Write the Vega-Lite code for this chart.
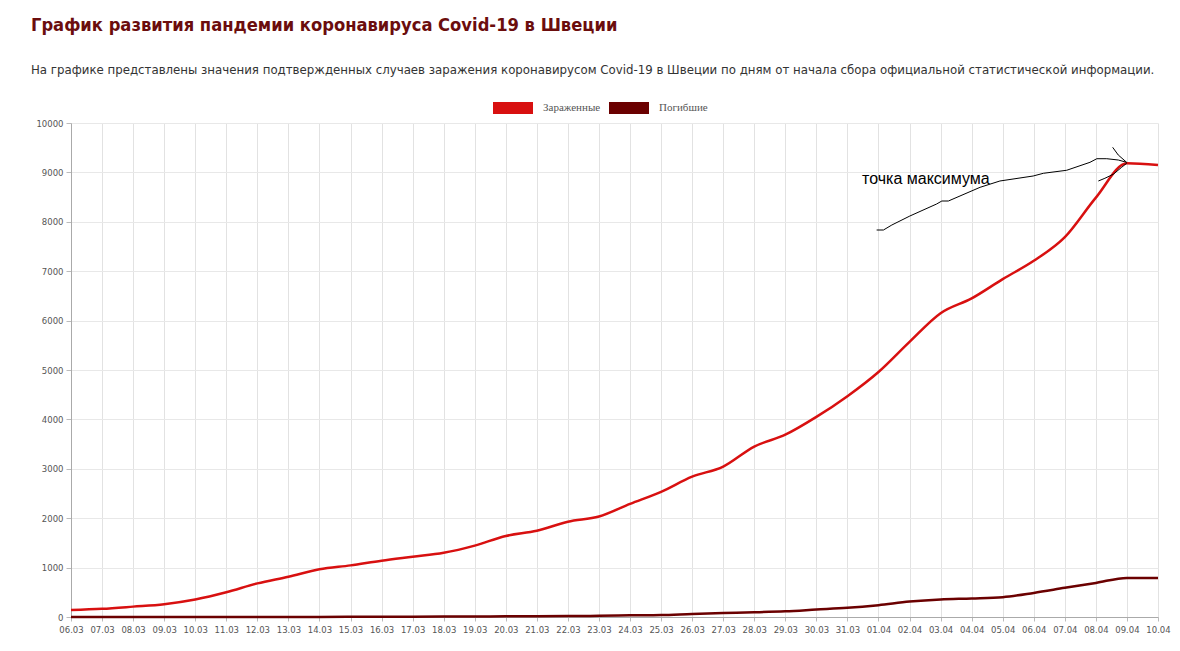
{
  "$schema": "https://vega.github.io/schema/vega-lite/v6.json",
  "width": 1087,
  "height": 494,
  "autosize": {"type": "none"},
  "padding": {"left": 71, "top": 123, "right": 22, "bottom": 34},
  "background": "white",
  "title": {
    "text": "График развития пандемии коронавируса Covid-19 в Швеции",
    "subtitle": "На графике представлены значения подтвержденных случаев заражения коронавирусом Covid-19 в Швеции по дням от начала сбора официальной статистической информации.",
    "anchor": "start",
    "frame": "bounds",
    "dx": -5,
    "offset": 10,
    "font": "Liberation Sans Narrow, DejaVu Sans Condensed, sans-serif",
    "fontSize": 18.2,
    "fontWeight": "bold",
    "color": "#6b0d0d",
    "subtitleFont": "Liberation Sans Narrow, DejaVu Sans Condensed, sans-serif",
    "subtitleFontSize": 13.1,
    "subtitleColor": "#333333",
    "subtitlePadding": 29
  },
  "datasets": {
    "covid": [
      {"date": "2020-03-06T00:00", "series": "Зараженные", "value": 140},
      {"date": "2020-03-07T00:00", "series": "Зараженные", "value": 165},
      {"date": "2020-03-08T00:00", "series": "Зараженные", "value": 210},
      {"date": "2020-03-09T00:00", "series": "Зараженные", "value": 260},
      {"date": "2020-03-10T00:00", "series": "Зараженные", "value": 355},
      {"date": "2020-03-11T00:00", "series": "Зараженные", "value": 500},
      {"date": "2020-03-12T00:00", "series": "Зараженные", "value": 680},
      {"date": "2020-03-13T00:00", "series": "Зараженные", "value": 815},
      {"date": "2020-03-14T00:00", "series": "Зараженные", "value": 965},
      {"date": "2020-03-15T00:00", "series": "Зараженные", "value": 1045},
      {"date": "2020-03-16T00:00", "series": "Зараженные", "value": 1140},
      {"date": "2020-03-17T00:00", "series": "Зараженные", "value": 1220},
      {"date": "2020-03-18T00:00", "series": "Зараженные", "value": 1300},
      {"date": "2020-03-19T00:00", "series": "Зараженные", "value": 1445},
      {"date": "2020-03-20T00:00", "series": "Зараженные", "value": 1640},
      {"date": "2020-03-21T00:00", "series": "Зараженные", "value": 1745},
      {"date": "2020-03-22T00:00", "series": "Зараженные", "value": 1930},
      {"date": "2020-03-23T00:00", "series": "Зараженные", "value": 2035},
      {"date": "2020-03-24T00:00", "series": "Зараженные", "value": 2290},
      {"date": "2020-03-25T00:00", "series": "Зараженные", "value": 2535},
      {"date": "2020-03-26T00:00", "series": "Зараженные", "value": 2840},
      {"date": "2020-03-27T00:00", "series": "Зараженные", "value": 3045},
      {"date": "2020-03-28T00:00", "series": "Зараженные", "value": 3450},
      {"date": "2020-03-29T00:00", "series": "Зараженные", "value": 3690},
      {"date": "2020-03-30T00:00", "series": "Зараженные", "value": 4050},
      {"date": "2020-03-31T00:00", "series": "Зараженные", "value": 4470},
      {"date": "2020-04-01T00:00", "series": "Зараженные", "value": 4960},
      {"date": "2020-04-02T00:00", "series": "Зараженные", "value": 5570},
      {"date": "2020-04-03T00:00", "series": "Зараженные", "value": 6150},
      {"date": "2020-04-04T00:00", "series": "Зараженные", "value": 6450},
      {"date": "2020-04-05T00:00", "series": "Зараженные", "value": 6840},
      {"date": "2020-04-06T00:00", "series": "Зараженные", "value": 7210},
      {"date": "2020-04-07T00:00", "series": "Зараженные", "value": 7690},
      {"date": "2020-04-08T00:00", "series": "Зараженные", "value": 8490},
      {"date": "2020-04-09T00:00", "series": "Зараженные", "value": 9185},
      {"date": "2020-04-10T00:00", "series": "Зараженные", "value": 9150},
      {"date": "2020-03-06T00:00", "series": "Погибшие", "value": 0},
      {"date": "2020-03-07T00:00", "series": "Погибшие", "value": 0},
      {"date": "2020-03-08T00:00", "series": "Погибшие", "value": 0},
      {"date": "2020-03-09T00:00", "series": "Погибшие", "value": 0},
      {"date": "2020-03-10T00:00", "series": "Погибшие", "value": 0},
      {"date": "2020-03-11T00:00", "series": "Погибшие", "value": 1},
      {"date": "2020-03-12T00:00", "series": "Погибшие", "value": 1},
      {"date": "2020-03-13T00:00", "series": "Погибшие", "value": 1},
      {"date": "2020-03-14T00:00", "series": "Погибшие", "value": 2},
      {"date": "2020-03-15T00:00", "series": "Погибшие", "value": 3},
      {"date": "2020-03-16T00:00", "series": "Погибшие", "value": 6},
      {"date": "2020-03-17T00:00", "series": "Погибшие", "value": 7},
      {"date": "2020-03-18T00:00", "series": "Погибшие", "value": 8},
      {"date": "2020-03-19T00:00", "series": "Погибшие", "value": 10},
      {"date": "2020-03-20T00:00", "series": "Погибшие", "value": 14},
      {"date": "2020-03-21T00:00", "series": "Погибшие", "value": 16},
      {"date": "2020-03-22T00:00", "series": "Погибшие", "value": 20},
      {"date": "2020-03-23T00:00", "series": "Погибшие", "value": 23},
      {"date": "2020-03-24T00:00", "series": "Погибшие", "value": 33},
      {"date": "2020-03-25T00:00", "series": "Погибшие", "value": 40},
      {"date": "2020-03-26T00:00", "series": "Погибшие", "value": 62},
      {"date": "2020-03-27T00:00", "series": "Погибшие", "value": 80},
      {"date": "2020-03-28T00:00", "series": "Погибшие", "value": 95},
      {"date": "2020-03-29T00:00", "series": "Погибшие", "value": 115},
      {"date": "2020-03-30T00:00", "series": "Погибшие", "value": 150},
      {"date": "2020-03-31T00:00", "series": "Погибшие", "value": 185},
      {"date": "2020-04-01T00:00", "series": "Погибшие", "value": 240},
      {"date": "2020-04-02T00:00", "series": "Погибшие", "value": 312},
      {"date": "2020-04-03T00:00", "series": "Погибшие", "value": 356},
      {"date": "2020-04-04T00:00", "series": "Погибшие", "value": 375},
      {"date": "2020-04-05T00:00", "series": "Погибшие", "value": 402},
      {"date": "2020-04-06T00:00", "series": "Погибшие", "value": 488},
      {"date": "2020-04-07T00:00", "series": "Погибшие", "value": 590},
      {"date": "2020-04-08T00:00", "series": "Погибшие", "value": 690},
      {"date": "2020-04-09T00:00", "series": "Погибшие", "value": 792},
      {"date": "2020-04-10T00:00", "series": "Погибшие", "value": 790}
    ],
    "arrow": [
      {"stroke": 1, "date": "2020-03-31T22:34", "value": 7834},
      {"stroke": 1, "date": "2020-04-01T03:50", "value": 7834},
      {"stroke": 1, "date": "2020-04-01T10:19", "value": 7935},
      {"stroke": 1, "date": "2020-04-02T00:14", "value": 8117},
      {"stroke": 1, "date": "2020-04-02T20:53", "value": 8360},
      {"stroke": 1, "date": "2020-04-03T00:58", "value": 8421},
      {"stroke": 1, "date": "2020-04-03T06:00", "value": 8421},
      {"stroke": 1, "date": "2020-04-04T06:29", "value": 8698},
      {"stroke": 1, "date": "2020-04-04T21:50", "value": 8826},
      {"stroke": 1, "date": "2020-04-05T23:31", "value": 8927},
      {"stroke": 1, "date": "2020-04-06T07:26", "value": 8982},
      {"stroke": 1, "date": "2020-04-07T01:26", "value": 9043},
      {"stroke": 1, "date": "2020-04-07T19:26", "value": 9204},
      {"stroke": 1, "date": "2020-04-08T00:43", "value": 9277},
      {"stroke": 1, "date": "2020-04-08T08:24", "value": 9277},
      {"stroke": 1, "date": "2020-04-08T17:17", "value": 9251},
      {"stroke": 1, "date": "2020-04-08T23:46", "value": 9204},
      {"stroke": 2, "date": "2020-04-08T12:58", "value": 9508},
      {"stroke": 2, "date": "2020-04-08T17:17", "value": 9352},
      {"stroke": 2, "date": "2020-04-08T23:46", "value": 9204},
      {"stroke": 3, "date": "2020-04-08T01:55", "value": 8826},
      {"stroke": 3, "date": "2020-04-08T06:58", "value": 8881},
      {"stroke": 3, "date": "2020-04-08T13:26", "value": 8962},
      {"stroke": 3, "date": "2020-04-08T19:55", "value": 9103},
      {"stroke": 3, "date": "2020-04-08T23:46", "value": 9184}
    ],
    "note": [
      {"date": "2020-03-31T11:17", "value": 8866, "label": "точка максимума"}
    ]
  },
  "encoding": {
    "x": {
      "field": "date",
      "type": "temporal",
      "title": null,
      "scale": {
        "domain": [{"year": 2020, "month": 3, "date": 6}, {"year": 2020, "month": 4, "date": 10}],
        "nice": false
      },
      "axis": {
        "format": "%d.%m",
        "tickCount": {"interval": "day", "step": 1},
        "labelAngle": 0,
        "labelOverlap": false,
        "labelFlush": false,
        "labelFont": "DejaVu Sans",
        "labelFontSize": 8.5,
        "labelColor": "#555555",
        "labelPadding": 4,
        "tickSize": 4,
        "tickColor": "#bbbbbb",
        "domainColor": "#aaaaaa",
        "gridColor": "#e2e2e2"
      }
    },
    "y": {
      "field": "value",
      "type": "quantitative",
      "title": null,
      "scale": {"domain": [0, 10000], "nice": false},
      "axis": {
        "values": [0, 1000, 2000, 3000, 4000, 5000, 6000, 7000, 8000, 9000, 10000],
        "format": "d",
        "labelFont": "DejaVu Sans",
        "labelFontSize": 8.5,
        "labelColor": "#555555",
        "labelPadding": 3,
        "labelFlush": false,
        "tickSize": 5,
        "tickColor": "#bbbbbb",
        "domainColor": "#aaaaaa",
        "gridColor": "#e8e8e8"
      }
    }
  },
  "layer": [
    {
      "data": {"name": "covid"},
      "mark": {"type": "line", "interpolate": "monotone", "strokeWidth": 2.5},
      "encoding": {
        "color": {
          "field": "series",
          "type": "nominal",
          "scale": {"domain": ["Зараженные", "Погибшие"], "range": ["#d81010", "#6b0000"]},
          "legend": {
            "title": null,
            "orient": "none",
            "direction": "horizontal",
            "legendX": 422,
            "legendY": -35,
            "symbolType": "M-1,-0.3H1V0.3H-1Z",
            "symbolSize": 1600,
            "symbolStrokeWidth": 0,
            "symbolOpacity": 1,
            "labelFont": "Liberation Serif",
            "labelFontSize": 11,
            "labelColor": "#555555",
            "labelOffset": 10,
            "columnPadding": 8,
            "encode": {
              "symbols": {"update": {"fill": {"scale": "color", "field": "value"}}}
            }
          }
        }
      }
    },
    {
      "data": {"name": "arrow"},
      "mark": {"type": "line", "color": "black", "strokeWidth": 1},
      "encoding": {
        "detail": {"field": "stroke", "type": "nominal"}
      }
    },
    {
      "data": {"name": "note"},
      "mark": {
        "type": "text",
        "align": "left",
        "baseline": "middle",
        "font": "Liberation Sans",
        "fontSize": 16,
        "color": "black"
      },
      "encoding": {
        "text": {"field": "label"}
      }
    }
  ],
  "config": {
    "view": {"stroke": null}
  }
}
